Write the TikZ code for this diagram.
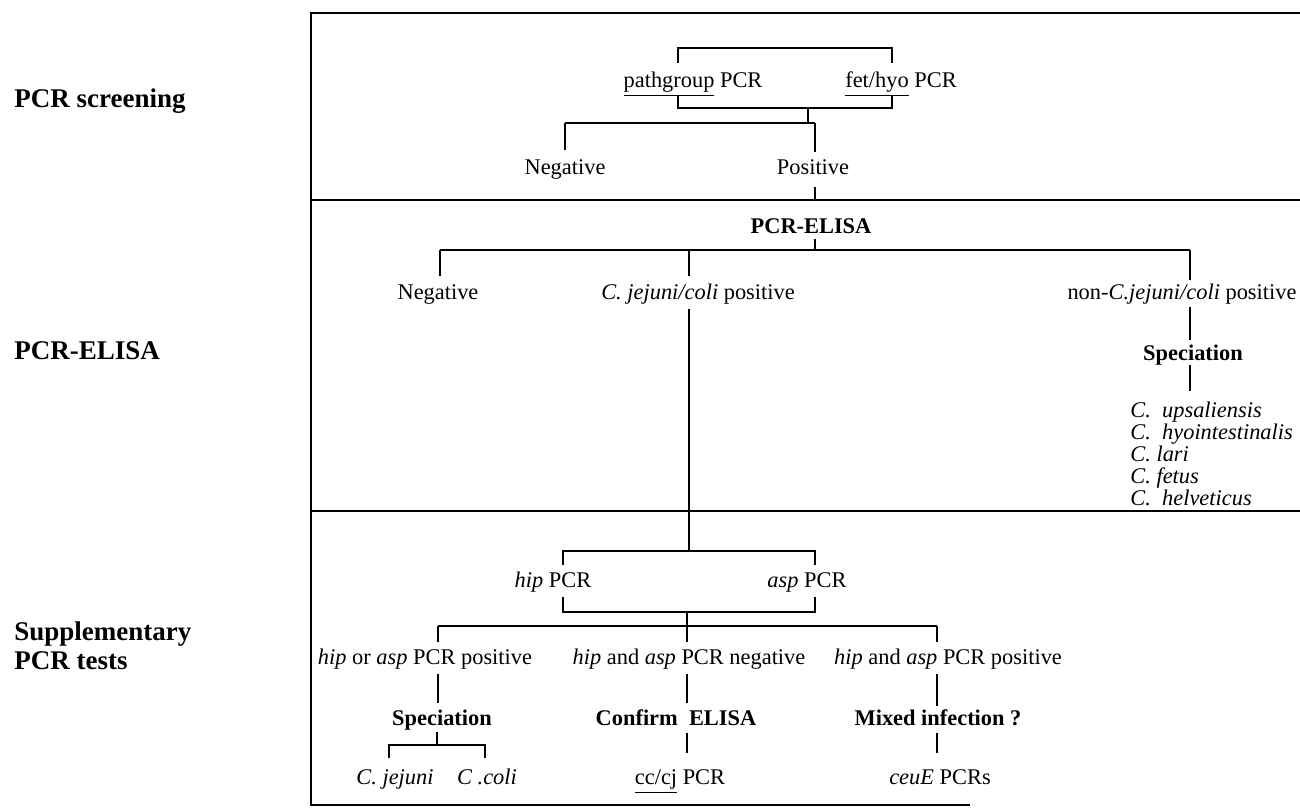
\documentclass[tikz,border=0pt]{standalone}
\usepackage{fontspec}
\setmainfont{Liberation Serif}
\begin{document}
\begin{tikzpicture}[x=0.5pt,y=-0.5pt,
  txt/.style={inner sep=0pt, text height=2ex, text depth=0.4ex, font=\fontsize{11.2}{13}\selectfont},
  bld/.style={inner sep=0pt, text height=2ex, text depth=0.4ex, font=\fontsize{11.2}{13}\selectfont\bfseries},
  lbl/.style={anchor=west, inner sep=0pt, text height=2ex, text depth=0.4ex, font=\fontsize{13.5}{15}\selectfont\bfseries},
  ln/.style={line width=1.1pt},
  frm/.style={line width=1.2pt}]
\useasboundingbox (0,0) rectangle (1300,809);

% frame
\coordinate (ftl) at (311,13);
\coordinate (ftr) at (1300,13);
\coordinate (s1l) at (311,200);
\coordinate (s1r) at (1300,200);
\coordinate (s2l) at (311,511);
\coordinate (s2r) at (1300,511);
\coordinate (fbl) at (311,805);
\coordinate (fbr) at (970,805);
\draw[frm] (ftr) -- (ftl) -- (fbl) -- (fbr);
\draw[frm] (s1l) -- (s1r);
\draw[frm] (s2l) -- (s2r);

% left labels
\node[lbl] (L1) at (14,100) {PCR screening};
\node[lbl] (L2) at (14,352) {PCR-ELISA};
\node[lbl] (L3) at (14,633) {Supplementary};
\node[lbl] (L4) at (14,662) {PCR tests};

% ---------- PCR screening ----------
\node[txt] (pg) at (693,80) {\underline{pathgroup} PCR};
\node[txt] (fh) at (901,80) {\underline{fet/hyo} PCR};
\coordinate (a1) at (678,63); \coordinate (a2) at (678,48);
\coordinate (a3) at (892,48); \coordinate (a4) at (892,63);
\draw[ln] (a1) -- (a2) -- (a3) -- (a4);
\coordinate (b1) at (678,95); \coordinate (b2) at (678,108);
\coordinate (b3) at (892,108); \coordinate (b4) at (892,95);
\draw[ln] (b1) -- (b2) -- (b3) -- (b4);
\coordinate (bs) at (808,108); \coordinate (bj) at (808,123);
\draw[ln] (bs) -- (bj);
\coordinate (c1) at (565,123); \coordinate (c2) at (815,123);
\draw[ln] (c1) -- (c2);
\node[txt] (neg1) at (565,167) {Negative};
\node[txt] (pos1) at (813,167) {Positive};
\coordinate (c1e) at (565,150); \coordinate (c2e) at (815,152);
\draw[ln] (c1) -- (c1e);
\draw[ln] (c2) -- (c2e);

% ---------- PCR-ELISA ----------
\coordinate (p1) at (815,187); \coordinate (p2) at (815,200);
\draw[ln] (p1) -- (p2);
\node[bld] (pe) at (811,226) {PCR-ELISA};
\coordinate (p3) at (815,239); \coordinate (p4) at (815,250);
\draw[ln] (p3) -- (p4);
\coordinate (d1) at (440,250); \coordinate (d3) at (1190,250);
\draw[ln] (d1) -- (d3);
\coordinate (d1e) at (440,276);
\coordinate (d2) at (689,250); \coordinate (d2e) at (689,276);
\coordinate (d3e) at (1190,280);
\draw[ln] (d1) -- (d1e);
\draw[ln] (d2) -- (d2e);
\draw[ln] (d3) -- (d3e);
\node[txt] (neg2) at (438,292) {Negative};
\node[txt] (cjc) at (698,292) {\textit{C. jejuni/coli} positive};
\node[txt] (ncjc) at (1182,292) {non-\textit{C.jejuni/coli} positive};

\coordinate (e1) at (1190,307); \coordinate (e2) at (1190,340);
\draw[ln] (e1) -- (e2);
\node[bld] (spec1) at (1193,353) {Speciation};
\coordinate (e3) at (1190,365); \coordinate (e4) at (1190,391);
\draw[ln] (e3) -- (e4);
\node[txt,anchor=west] (sp1) at (1130,410) {\textit{C.\ \ upsaliensis}};
\node[txt,anchor=west] (sp2) at (1130,432) {\textit{C.\ \ hyointestinalis}};
\node[txt,anchor=west] (sp3) at (1130,454) {\textit{C.\ lari}};
\node[txt,anchor=west] (sp4) at (1130,476) {\textit{C.\ fetus}};
\node[txt,anchor=west] (sp5) at (1130,498) {\textit{C.\ \ helveticus}};

% ---------- Supplementary ----------
\coordinate (f1) at (689,309); \coordinate (f2) at (689,551);
\draw[ln] (f1) -- (f2);
\node[txt] (hip) at (553,580) {\textit{hip} PCR};
\node[txt] (asp) at (807,580) {\textit{asp} PCR};
\coordinate (g1) at (563,565); \coordinate (g2) at (563,551);
\coordinate (g3) at (815,551); \coordinate (g4) at (815,565);
\draw[ln] (g1) -- (g2) -- (g3) -- (g4);
\coordinate (h1) at (563,597); \coordinate (h2) at (563,612);
\coordinate (h3) at (815,612); \coordinate (h4) at (815,597);
\draw[ln] (h1) -- (h2) -- (h3) -- (h4);
\coordinate (hs) at (687,612); \coordinate (hj) at (687,626);
\draw[ln] (hs) -- (hj);
\coordinate (k1) at (438,626); \coordinate (k2) at (687,626); \coordinate (k3) at (937,626);
\draw[ln] (k1) -- (k3);
\coordinate (k1e) at (438,642); \coordinate (k2e) at (687,642); \coordinate (k3e) at (937,642);
\draw[ln] (k1) -- (k1e);
\draw[ln] (k2) -- (k2e);
\draw[ln] (k3) -- (k3e);
\node[txt] (orpos) at (425,657) {\textit{hip} or \textit{asp} PCR positive};
\node[txt] (andneg) at (689,657) {\textit{hip} and \textit{asp} PCR negative};
\node[txt] (andpos) at (948,657) {\textit{hip} and \textit{asp} PCR positive};

% left branch
\coordinate (m1) at (438,674); \coordinate (m2) at (438,703);
\draw[ln] (m1) -- (m2);
\node[bld] (spec2) at (442,718) {Speciation};
\coordinate (m3) at (437,732); \coordinate (m4) at (437,745);
\draw[ln] (m3) -- (m4);
\coordinate (n1) at (389,758); \coordinate (n2) at (389,745);
\coordinate (n3) at (485,745); \coordinate (n4) at (485,758);
\draw[ln] (n1) -- (n2) -- (n3) -- (n4);
\node[txt] (cj) at (395,777) {\textit{C. jejuni}};
\node[txt] (cc) at (487,777) {\textit{C .coli}};

% middle branch
\coordinate (o1) at (687,674); \coordinate (o2) at (687,703);
\draw[ln] (o1) -- (o2);
\node[bld] (conf) at (676,718) {Confirm\ \ ELISA};
\coordinate (o3) at (687,733); \coordinate (o4) at (687,753);
\draw[ln] (o3) -- (o4);
\node[txt] (cccj) at (680,777) {\underline{cc/cj} PCR};

% right branch
\coordinate (q1) at (937,674); \coordinate (q2) at (937,706);
\draw[ln] (q1) -- (q2);
\node[bld] (mix) at (938,718) {Mixed infection ?};
\coordinate (q3) at (937,733); \coordinate (q4) at (937,753);
\draw[ln] (q3) -- (q4);
\node[txt] (ceu) at (940,777) {\textit{ceuE} PCRs};
\end{tikzpicture}
\end{document}
